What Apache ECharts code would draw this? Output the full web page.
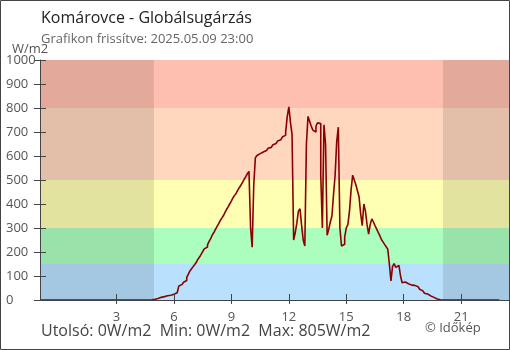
<!DOCTYPE html>
<html>
<head>
<meta charset="utf-8">
<script src="https://cdn.jsdelivr.net/npm/echarts@6/dist/echarts.min.js"></script>
<style>
  html, body { margin: 0; padding: 0; background: #fff; }
  #chart { width: 510px; height: 350px; }
</style>
</head>
<body>
<div id="chart"></div>
<script>
// Global radiation, W/m2, 5-minute readings.
// Night before sunrise: 23:00 (previous day) .. 04:40
const nightStartHour = -1;
const nightValues = [
  0,0,0,0,0,0,0,0,0,0,0,0,
  0,0,0,0,0,0,0,0,0,0,0,0,
  0,0,0,0,0,0,0,0,0,0,0,0,
  0,0,0,0,0,0,0,0,0,0,0,0,
  0,0,0,0,0,0,0,0,0,0,0,0,
  0,0,0,0,0,0,0,0,0
];
// Daylight: 04:45 .. 19:50
const dayStartHour = 4 + 45 / 60;
const dayValues = [
  1,2,3,
  5,6,9,11,12,14,16,18,19,20,22,24,
  27,30,34,58,64,68,74,81,94,108,121,130,
  139,148,157,170,179,190,202,213,221,230,244,256,
  271,281,294,307,318,331,341,352,365,378,389,401,
  413,426,436,445,458,469,479,491,503,514,526,536,
  300,220,480,592,602,610,615,617,620,623,627,632,
  636,642,647,652,657,663,668,675,680,686,700,765,
  805,740,690,250,280,320,370,380,310,250,225,650,
  765,745,725,708,700,725,738,735,520,300,730,650,
  270,295,325,350,440,520,660,720,300,225,232,262,
  300,315,370,458,520,500,480,455,430,360,310,400,
  370,315,275,315,338,325,310,296,282,268,252,242,
  232,222,212,150,80,140,152,136,144,146,100,72,
  75,70,68,64,62,62,61,58,55,50,45,38,
  31,28,25,20,17,14,11,7,4,3,1
];
// Evening: 19:55 .. 23:00
const eveningStartHour = 19 + 55 / 60;
const eveningValues = [
  0,0,0,0,0,0,0,0,0,0,0,0,
  0,0,0,0,0,0,0,0,0,0,0,0,
  0,0,0,0,0,0,0,0,0,0,0,0,
  0,0
];
const stepHours = 5 / 60;

// Axis ticks
const xTicks = [3, 6, 9, 12, 15, 18, 21];
const yMin = 0, yMax = 1000, yStep = 100;

// Radiation bands (W/m2) and their colours
const bandEdges = [0, 150, 300, 500, 800, 1000];
const bandColors = ['#b9e1fe', '#acfebe', '#ffffb4', '#ffd6be', '#ffbfb0'];

// Night (sunset .. sunrise) shading, hours
const sunrise = 4.95;
const sunset = 20.05;
const xMin = -1, xMax = 23.5;

// Summary texts
const titleText = 'Komárovce - Globálsugárzás';
const subtitleText = 'Grafikon frissítve: 2025.05.09 23:00';
const unitText = 'W/m2';
const lastValue = 0, minValue = 0, maxValue = 805;
const footerText = 'Utolsó: ' + lastValue + 'W/m2  Min: ' + minValue + 'W/m2  Max: ' + maxValue + 'W/m2';
const creditText = '© Időkép';

function block(start, values) {
  return values.map((v, i) => [start + i * stepHours, v]);
}
const seriesData = []
  .concat(block(nightStartHour, nightValues))
  .concat(block(dayStartHour, dayValues))
  .concat(block(eveningStartHour, eveningValues));

const FONT = '"Open Sans", "Noto Sans", sans-serif';
const AXIS = '#444';

const bandAreas = bandColors.map((c, i) => [
  { yAxis: bandEdges[i], itemStyle: { color: c } },
  { yAxis: bandEdges[i + 1] }
]);
const nightAreas = [
  [{ xAxis: xMin, itemStyle: { color: 'rgba(0,0,0,0.11)' } }, { xAxis: sunrise }],
  [{ xAxis: sunset, itemStyle: { color: 'rgba(0,0,0,0.11)' } }, { xAxis: xMax }]
];

const chart = echarts.init(document.getElementById('chart'), null, { renderer: 'canvas' });
chart.setOption({
  animation: false,
  backgroundColor: '#fff',
  grid: { left: 40, top: 60, right: 1, bottom: 50 },
  xAxis: [
    {
      type: 'value', min: xMin, max: xMax, z: 10,
      axisLine: { onZero: false, lineStyle: { color: AXIS, width: 1 } },
      axisTick: { customValues: xTicks, length: 4, lineStyle: { color: AXIS } },
      axisLabel: { customValues: xTicks, color: '#555', fontSize: 13, fontFamily: FONT, margin: 11 },
      splitLine: { show: false }
    },
    {
      type: 'value', min: xMin, max: xMax, position: 'bottom', z: 10,
      axisLine: { show: false, onZero: false },
      axisTick: { customValues: xTicks, inside: true, length: 6, lineStyle: { color: AXIS } },
      axisLabel: { show: false },
      splitLine: { show: false }
    }
  ],
  yAxis: [
    {
      type: 'value', min: yMin, max: yMax, interval: yStep, z: 10,
      axisLine: { show: true, onZero: false, lineStyle: { color: AXIS, width: 1 } },
      axisTick: { show: true, length: 6, lineStyle: { color: AXIS } },
      axisLabel: { color: '#555', fontSize: 13, fontFamily: FONT, align: 'left', margin: 34,
        formatter: v => String(v) },
      splitLine: { show: false }
    },
    {
      type: 'value', min: yMin, max: yMax, interval: yStep, position: 'left', z: 10,
      axisLine: { show: false, onZero: false },
      axisTick: { show: true, inside: true, length: 6, lineStyle: { color: AXIS } },
      axisLabel: { show: false },
      splitLine: { show: false }
    }
  ],
  series: [
    {
      type: 'line', data: [], z: 1, silent: true,
      markArea: { silent: true, data: bandAreas }
    },
    {
      type: 'line', data: [], z: 2, silent: true,
      markArea: { silent: true, data: nightAreas }
    },
    {
      type: 'line', data: seriesData, z: 5,
      step: 'end', showSymbol: false, symbol: 'none',
      lineStyle: { color: '#8b0000', width: 1.6 },
      itemStyle: { color: '#8b0000' }
    }
  ],
  graphic: [
    { type: 'text', left: 41, top: 10, style: { text: titleText, font: '16px ' + FONT, fill: '#222' } },
    { type: 'text', left: 41, top: 33, style: { text: subtitleText, font: '13px ' + FONT, fill: '#666' } },
    { type: 'text', left: 12, top: 43, style: { text: unitText, font: '13px ' + FONT, fill: '#555' } },
    { type: 'text', left: 41, top: 323, style: { text: footerText, font: '16px ' + FONT, fill: '#444' } },
    { type: 'text', left: 425, top: 322, style: { text: creditText, font: '13px ' + FONT, fill: '#555' } },
    { type: 'rect', z: 100, silent: true, shape: { x: 0.5, y: 0.5, width: 509, height: 349 },
      style: { fill: 'none', stroke: AXIS, lineWidth: 1 } }
  ]
});
</script>
</body>
</html>
